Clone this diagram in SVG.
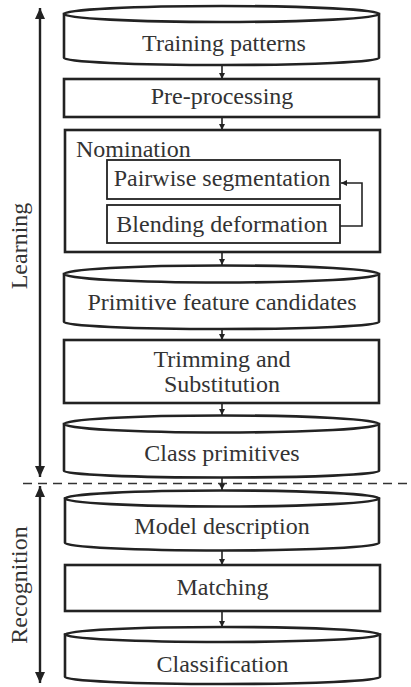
<svg xmlns="http://www.w3.org/2000/svg" width="411" height="687" viewBox="0 0 411 687">
  <style>
    .box { fill: #fff; stroke: #222; stroke-width: 2.6; }
    .inner { fill: #fff; stroke: #222; stroke-width: 1.8; }
    .lbl { font-family: "Liberation Serif", "Times New Roman", serif; font-size: 24px; fill: #333; text-anchor: middle; }
    .lft { text-anchor: start; }
    .link { fill: none; stroke: #222; stroke-width: 1.6; }
    .axis { fill: none; stroke: #222; stroke-width: 2.4; }
  </style>
  <defs>
    <marker id="tip" markerUnits="userSpaceOnUse" markerWidth="7" markerHeight="7" refX="6" refY="3" orient="auto">
      <path d="M0,0 L6,3 L0,6 z" fill="#222"/>
    </marker>
    <marker id="bigtip" markerUnits="userSpaceOnUse" markerWidth="12" markerHeight="12" refX="11" refY="5" orient="auto-start-reverse">
      <path d="M0,0 L11,5 L0,10 z" fill="#222"/>
    </marker>
  </defs>
  <rect width="411" height="687" fill="#fff"/>

  <!-- phase axes and separator -->
  <g id="phases">
    <line class="axis" x1="40" y1="477" x2="40" y2="8" marker-end="url(#bigtip)" marker-start="url(#bigtip)"/>
    <line class="axis" x1="40" y1="683" x2="40" y2="486" marker-end="url(#bigtip)" marker-start="url(#bigtip)"/>
    <line x1="23" y1="483.5" x2="411" y2="483.5" stroke="#333" stroke-width="1.6" stroke-dasharray="9 6"/>
    <text class="lbl" transform="translate(27,246) rotate(-90)">Learning</text>
    <text class="lbl" transform="translate(27,585) rotate(-90)">Recognition</text>
  </g>

  <!-- connectors -->
  <g id="connectors">
    <line class="link" x1="222" y1="65" x2="222" y2="79" marker-end="url(#tip)"/>
    <line class="link" x1="222" y1="117" x2="222" y2="130" marker-end="url(#tip)"/>
    <line class="link" x1="222" y1="252" x2="222" y2="265" marker-end="url(#tip)"/>
    <line class="link" x1="222" y1="329" x2="222" y2="340" marker-end="url(#tip)"/>
    <line class="link" x1="222" y1="403" x2="222" y2="415" marker-end="url(#tip)"/>
    <line class="link" x1="222" y1="477" x2="222" y2="490" marker-end="url(#tip)"/>
    <line class="link" x1="222" y1="551" x2="222" y2="565" marker-end="url(#tip)"/>
    <line class="link" x1="222" y1="611" x2="222" y2="627" marker-end="url(#tip)"/>
  </g>

  <g id="training-patterns">
    <path class="box" d="M64,14 L64,58 A157.5,7 0 0 0 379,58 L379,14 z"/>
    <ellipse class="box" cx="221.5" cy="14" rx="157.5" ry="8"/>
    <text class="lbl" x="224" y="51">Training patterns</text>
  </g>

  <g id="pre-processing">
    <rect class="box" x="64" y="79" width="315" height="38"/>
    <text class="lbl" x="222" y="104">Pre-processing</text>
  </g>

  <g id="nomination">
    <rect class="box" x="65" y="130" width="315" height="122"/>
    <text class="lbl lft" x="76" y="157">Nomination</text>
  </g>

  <g id="pairwise-segmentation">
    <rect class="inner" x="107" y="160" width="233" height="39"/>
    <text class="lbl" x="222" y="186">Pairwise segmentation</text>
  </g>

  <g id="blending-deformation">
    <rect class="inner" x="107" y="205" width="233" height="38"/>
    <text class="lbl" x="222" y="232">Blending deformation</text>
  </g>

  <g id="nomination-loop">
    <path class="link" d="M340,226 L362,226 L362,183 L341,183" marker-end="url(#tip)"/>
  </g>

  <g id="primitive-feature-candidates">
    <path class="box" d="M64,274 L64,322 A157.5,7 0 0 0 379,322 L379,274 z"/>
    <ellipse class="box" cx="221.5" cy="274" rx="157.5" ry="8.5"/>
    <text class="lbl" x="222" y="310">Primitive feature candidates</text>
  </g>

  <g id="trimming-substitution">
    <rect class="box" x="64" y="340" width="315" height="63"/>
    <text class="lbl" x="222" y="367">Trimming and</text>
    <text class="lbl" x="222" y="392">Substitution</text>
  </g>

  <g id="class-primitives">
    <path class="box" d="M64,424 L64,471 A157.5,6.5 0 0 0 379,471 L379,424 z"/>
    <ellipse class="box" cx="221.5" cy="424" rx="157.5" ry="8.5"/>
    <text class="lbl" x="222" y="461">Class primitives</text>
  </g>

  <g id="model-description">
    <path class="box" d="M65,498.5 L65,543 A157,7.5 0 0 0 379,543 L379,498.5 z"/>
    <ellipse class="box" cx="222" cy="498.5" rx="157" ry="8"/>
    <text class="lbl" x="222" y="534">Model description</text>
  </g>

  <g id="matching">
    <rect class="box" x="65" y="565" width="315" height="46"/>
    <text class="lbl" x="222.5" y="595">Matching</text>
  </g>

  <g id="classification">
    <path class="box" d="M65,634.5 L65,677 A157.5,7 0 0 0 380,677 L380,634.5 z"/>
    <ellipse class="box" cx="222.5" cy="634.5" rx="157.5" ry="7.5"/>
    <text class="lbl" x="222.5" y="672">Classification</text>
  </g>
</svg>
